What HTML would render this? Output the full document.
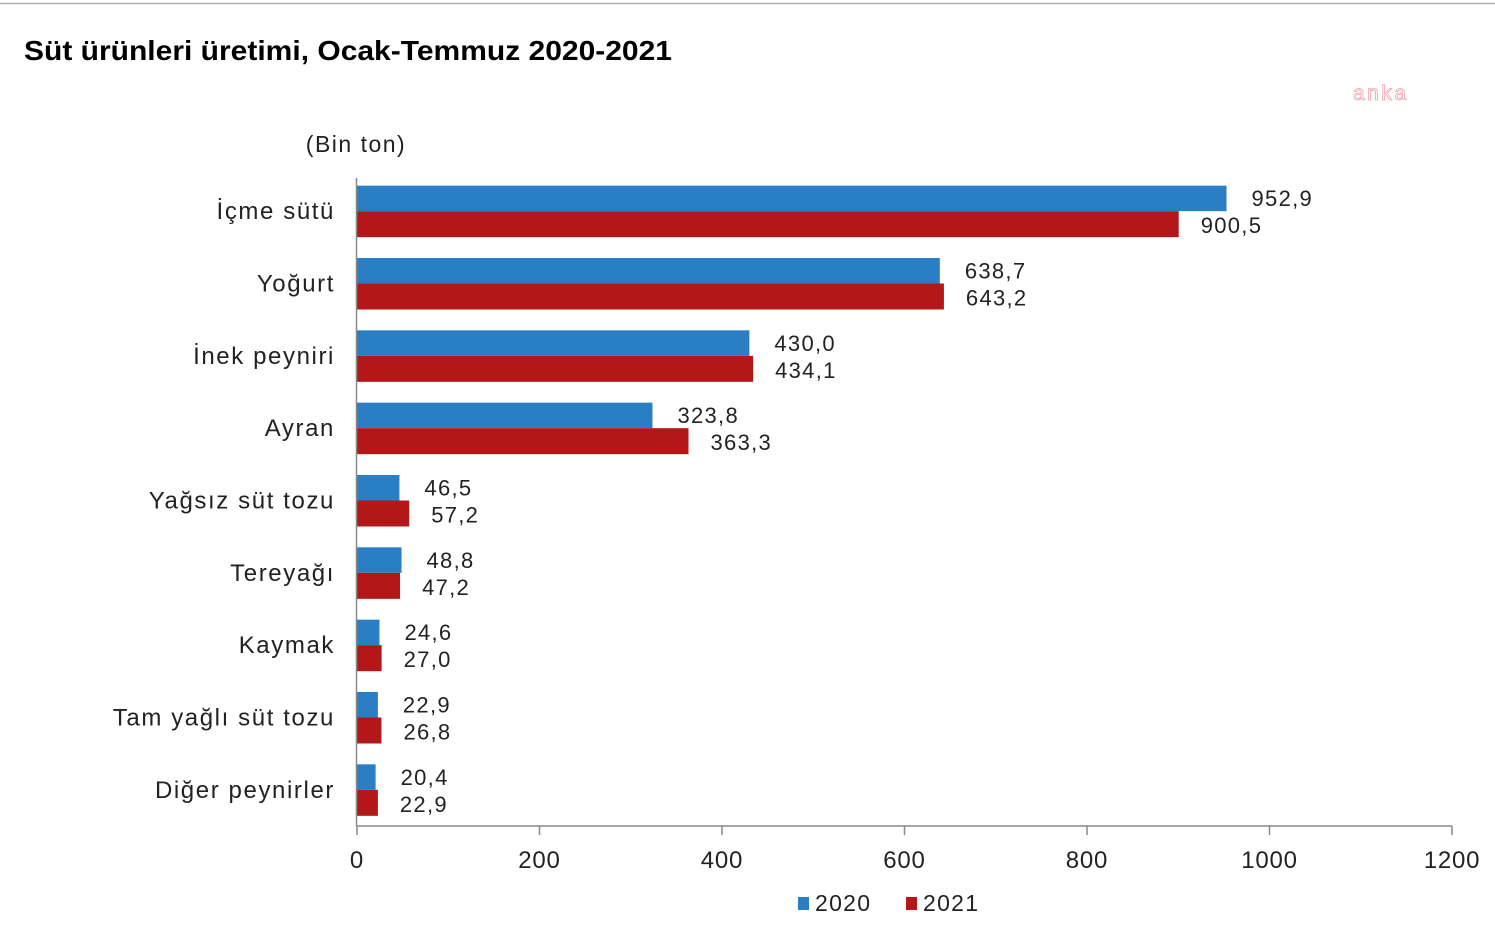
<!DOCTYPE html>
<html><head><meta charset="utf-8"><style>
html,body{margin:0;padding:0;background:#fff;width:1495px;height:925px;overflow:hidden}
svg text{font-family:"Liberation Sans",sans-serif}
</style></head><body>
<svg width="1495" height="925" viewBox="0 0 1495 925">
<line x1="0" y1="3.5" x2="1495" y2="3.5" stroke="#b0b0b0" stroke-width="1.5"/>
<text x="24" y="60" font-size="28" font-weight="bold" fill="#000" textLength="648" lengthAdjust="spacingAndGlyphs">Süt ürünleri üretimi, Ocak-Temmuz 2020-2021</text>
<text x="1353" y="100" font-size="21" fill="#fff" stroke="#f2a0b0" stroke-width="0.8" letter-spacing="2.5">anka</text>
<text x="356" y="152" font-size="23" fill="#222" text-anchor="middle" letter-spacing="1.5">(Bin ton)</text>
<g id="plot"></g>
<g>
<rect x="798" y="897" width="11" height="13" fill="#2a7fc4"/>
<text x="815" y="911" font-size="23" fill="#222" letter-spacing="1.3">2020</text>
<rect x="906" y="897" width="11" height="13" fill="#b31717"/>
<text x="923" y="911" font-size="23" fill="#222" letter-spacing="1.3">2021</text>
</g>
</svg>
<script>
const categories = ["İçme sütü","Yoğurt","İnek peyniri","Ayran","Yağsız süt tozu","Tereyağı","Kaymak","Tam yağlı süt tozu","Diğer peynirler"];
const values2020 = [952.9,638.7,430.0,323.8,46.5,48.8,24.6,22.9,20.4];
const values2021 = [900.5,643.2,434.1,363.3,57.2,47.2,27.0,26.8,22.9];
const xTicks = [0,200,400,600,800,1000,1200];

const NS = "http://www.w3.org/2000/svg";
const plot = document.getElementById('plot');
const X0 = 357, X1 = 1452, XMAX = 1200, TOP = 175, BOT = 826;
const rowH = (BOT - TOP) / categories.length;
function xs(v){ return X0 + v / XMAX * (X1 - X0); }
function ys(i){ return TOP + rowH * (i + 0.5); }
function fmt(v){ return v.toFixed(1).replace('.', ','); }
function mk(tag, attrs){ const e = document.createElementNS(NS, tag); for (const k in attrs) e.setAttribute(k, attrs[k]); plot.appendChild(e); return e; }

categories.forEach((c, i) => {
  const cy = ys(i);
  const b1 = mk('rect', {x: X0, y: cy - 25.5, width: xs(values2020[i]) - X0, height: 25.5, fill: '#2a7fc4'});
  
  
  const b2 = mk('rect', {x: X0, y: cy, width: xs(values2021[i]) - X0, height: 26, fill: '#b31717'});
  
  
  const t1 = mk('text', {x: xs(values2020[i]) + 25, y: cy - 5, 'font-size': 22, fill: '#222', 'letter-spacing': '1.3'});
  t1.textContent = fmt(values2020[i]);
  
  
  const t2 = mk('text', {x: xs(values2021[i]) + 22, y: cy + 22, 'font-size': 22, fill: '#222', 'letter-spacing': '1.3'});
  t2.textContent = fmt(values2021[i]);
  
  
  const cl = mk('text', {x: 335, y: cy + 8, 'font-size': 24, fill: '#222', 'text-anchor': 'end', 'letter-spacing': '1.6'});
  cl.textContent = c;
  
  
});

const ya = mk('line', {x1: X0 - 0.5, y1: 178, x2: X0 - 0.5, y2: BOT, stroke: '#888', 'stroke-width': 1.5});


const xa = mk('line', {x1: X0 - 0.5, y1: BOT, x2: X1, y2: BOT, stroke: '#888', 'stroke-width': 1.5});


xTicks.forEach(t => {
  const tk = mk('line', {x1: xs(t), y1: BOT, x2: xs(t), y2: BOT + 9, stroke: '#888', 'stroke-width': 1.5});
  
  
  const tl = mk('text', {x: xs(t), y: BOT + 42, 'font-size': 24, fill: '#222', 'text-anchor': 'middle', 'letter-spacing': '0.8'});
  tl.textContent = t;
  
  
});
</script>
</body></html>
